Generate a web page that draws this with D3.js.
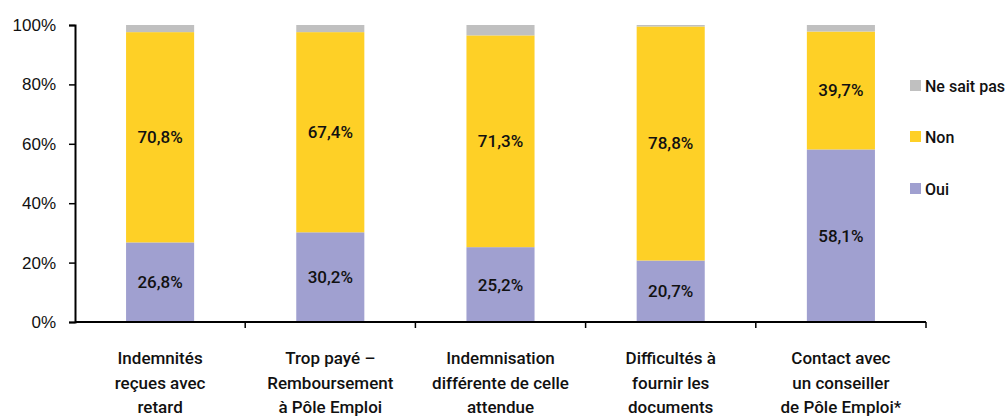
<!DOCTYPE html>
<html lang="fr">
<head>
  <meta charset="UTF-8">
  <title>Répartition Oui / Non / Ne sait pas</title>
  <script src="https://cdn.jsdelivr.net/npm/d3@7/dist/d3.min.js"></script>
  <style>
    body { margin: 0; background: #fff; }
    svg { display: block; font-family: Roboto, "Liberation Sans", sans-serif; font-weight: 500; }
  </style>
</head>
<body>
<script>
  // categories (multi-line labels)
  const categories = [
    ["Indemnités", "reçues avec", "retard"],
    ["Trop payé –", "Remboursement", "à Pôle Emploi"],
    ["Indemnisation", "différente de celle", "attendue"],
    ["Difficultés à", "fournir les", "documents"],
    ["Contact avec", "un conseiller", "de Pôle Emploi*"]
  ];
  const oui = [26.8, 30.2, 25.2, 20.7, 58.1];
  const non = [70.8, 67.4, 71.3, 78.8, 39.7];
  const nsp = [2.4, 2.4, 3.5, 0.5, 2.2];
  const seriesNames = ["Oui", "Non", "Ne sait pas"];
  const seriesColors = ["#a0a0d0", "#fed026", "#c0c0c0"];
  const yTicks = [0, 20, 40, 60, 80, 100];

  const W = 1006, H = 417;

  const svg = d3.select("body").append("svg")
    .attr("width", W)
    .attr("height", H);

  const keys = categories.map((c, i) => i);
  const x = d3.scaleBand().domain(keys).range([75, 926]).paddingInner(0.6).paddingOuter(0.3);
  const xb = d3.scaleBand().domain(keys).range([75, 926]);
  const y = d3.scaleLinear().domain([0, 100]).range([322, 25]);

  const rows = keys.map(i => ({ i, Oui: oui[i], Non: non[i], "Ne sait pas": nsp[i] }));
  const stacked = d3.stack().keys(seriesNames)(rows);

  // bars
  const layers = svg.selectAll("g.layer")
    .data(stacked)
    .enter().append("g")
    .attr("class", "layer")
    .attr("fill", (d, k) => seriesColors[k]);

  layers.selectAll("rect")
    .data(d => d)
    .enter().append("rect")
    .attr("x", d => x(d.data.i))
    .attr("width", x.bandwidth())
    .attr("y", d => y(d[1]))
    .attr("height", d => y(d[0]) - y(d[1]));

  // value labels (Oui and Non only)
  stacked.slice(0, 2).forEach(layer => {
    svg.append("g").selectAll("text")
      .data(layer)
      .enter().append("text")
      .attr("x", d => x(d.data.i) + x.bandwidth() / 2)
      .attr("y", d => y((d[0] + d[1]) / 2))
      .attr("dy", "0.35em")
      .attr("text-anchor", "middle")
      .attr("font-size", 17)
      .attr("fill", "#111")
      .text(d => d3.format(".1f")(d[1] - d[0]).replace(".", ",") + "%");
  });

  // y axis
  const yAxis = svg.append("g")
    .attr("transform", "translate(75,0)")
    .call(d3.axisLeft(y).tickValues(yTicks).tickSize(6).tickPadding(13).tickFormat(d => d + "%"));
  yAxis.select(".domain").attr("stroke", "#000").attr("stroke-width", 2);
  yAxis.selectAll(".tick line").attr("stroke", "#000").attr("stroke-width", 1.5);
  yAxis.selectAll("text").attr("font-size", 17).attr("fill", "#111")
    .attr("font-family", null);

  // x axis line and band ticks
  const xAxis = svg.append("g").attr("class", "x-axis");
  xAxis.append("line")
    .attr("x1", 75).attr("x2", 926)
    .attr("y1", y(0)).attr("y2", y(0))
    .attr("stroke", "#000").attr("stroke-width", 2);
  const bounds = keys.map(i => xb(i) + xb.bandwidth());
  xAxis.selectAll("line.tk")
    .data(bounds)
    .enter().append("line")
    .attr("class", "tk")
    .attr("x1", d => d).attr("x2", d => d)
    .attr("y1", y(0)).attr("y2", y(0) + 6)
    .attr("stroke", "#000").attr("stroke-width", 1.5);

  // category labels
  const catG = xAxis.selectAll("text.cat")
    .data(categories)
    .enter().append("text")
    .attr("class", "cat")
    .attr("text-anchor", "middle")
    .attr("font-size", 17)
    .attr("fill", "#111")
    .attr("transform", (d, i) => `translate(${xb(i) + xb.bandwidth() / 2},364)`);
  catG.selectAll("tspan")
    .data(d => d)
    .enter().append("tspan")
    .attr("x", 0)
    .attr("y", (d, j) => j * 24.5)
    .text(d => d);

  // legend
  const legendY = [189, 137, 86];
  const legend = svg.append("g");
  seriesNames.forEach((name, k) => {
    legend.append("rect")
      .attr("x", 910).attr("y", legendY[k] - 6)
      .attr("width", 11).attr("height", 11)
      .attr("fill", seriesColors[k]);
    legend.append("text")
      .attr("x", 925).attr("y", legendY[k])
      .attr("dy", "0.35em")
      .attr("font-size", 16)
      .attr("fill", "#111")
      .text(name);
  });
</script>
</body>
</html>
